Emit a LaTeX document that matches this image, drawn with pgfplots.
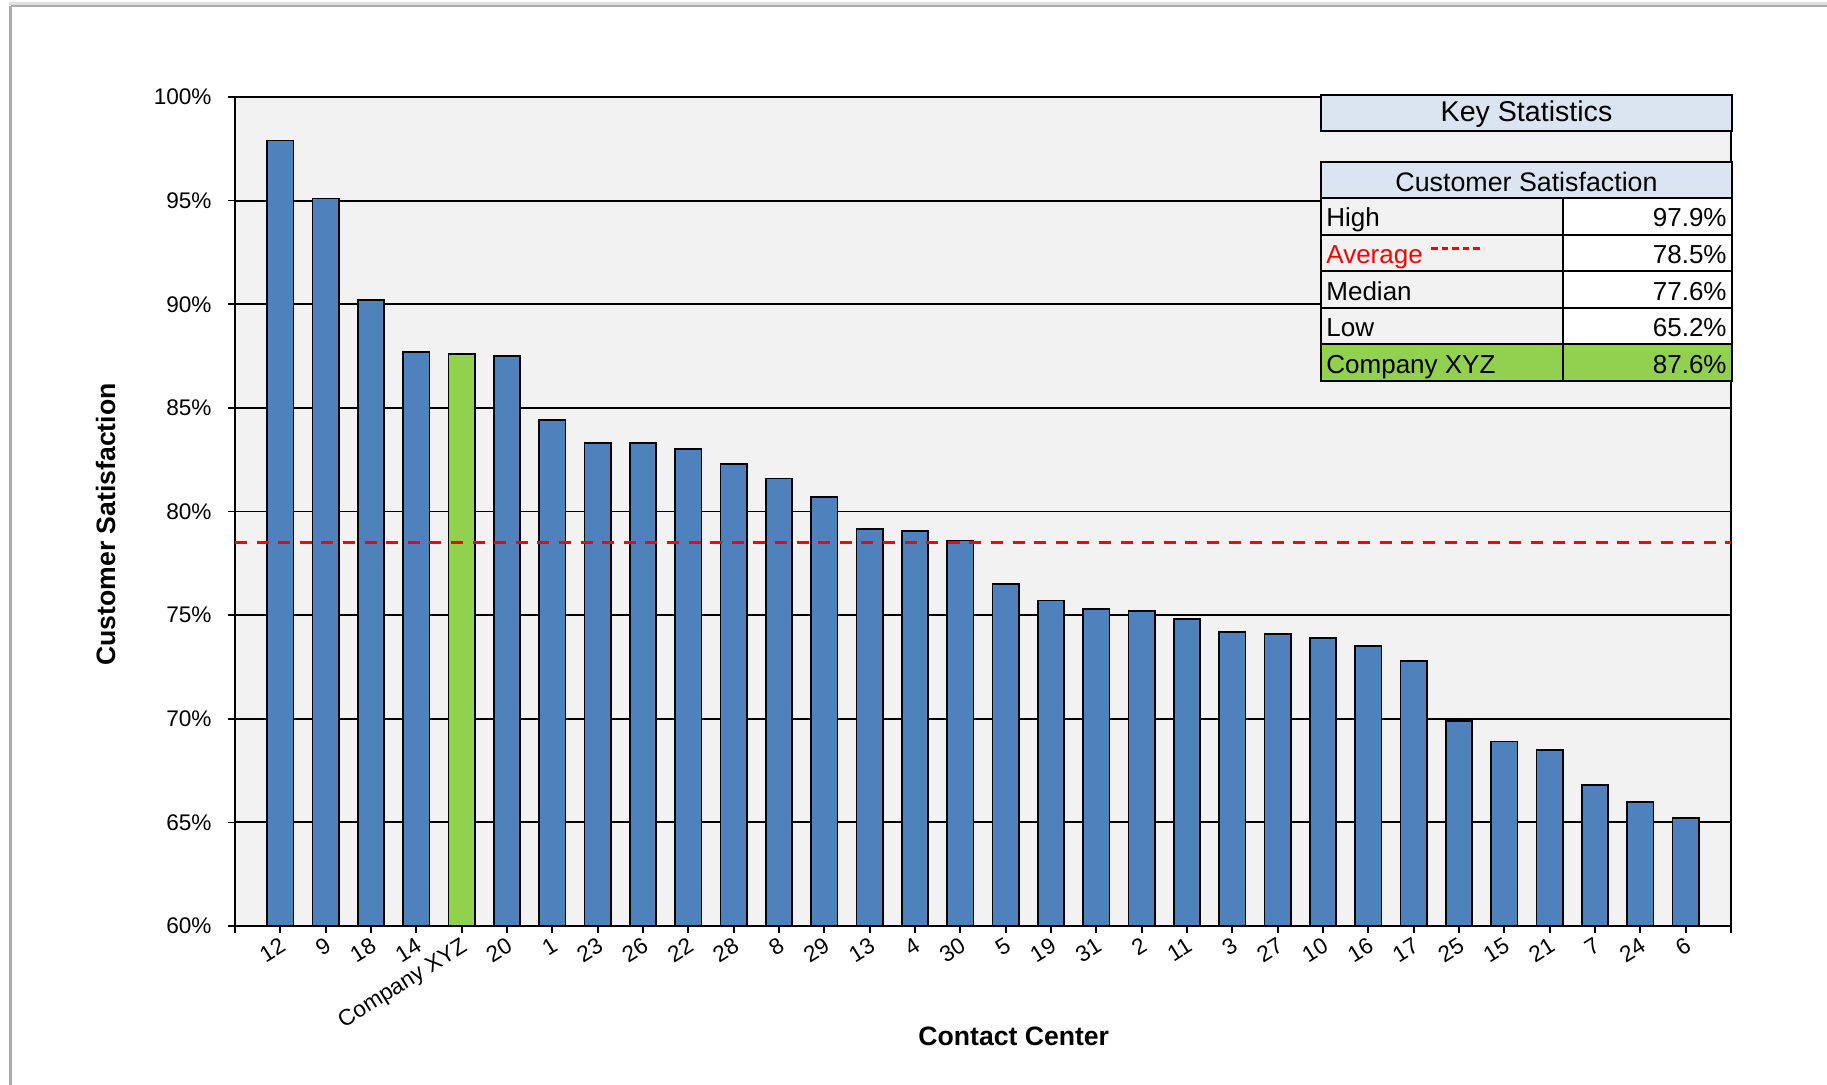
\documentclass[border=0pt]{standalone}
\usepackage{pgfplots}
\pgfplotsset{compat=1.18}
\usepackage{fontspec}
\setmainfont{Liberation Sans}

\definecolor{barblue}{HTML}{4F81BD}
\definecolor{xyzgreen}{HTML}{92D050}
\definecolor{plotbg}{HTML}{F2F2F2}
\definecolor{headbg}{HTML}{DBE5F1}
\definecolor{avgred}{HTML}{FF0000}
\definecolor{framegray}{HTML}{ABABAB}

\begin{document}
\begin{tikzpicture}
% page size: 1827 x 1084 units of 0.5pt
\useasboundingbox (0,0) rectangle (913.5pt,-542pt);

\begin{axis}[
  at={(117.5pt,-463pt)}, anchor=south west,
  scale only axis, width=748pt, height=414.5pt,
  xmin=-1, xmax=32, ymin=60, ymax=100,
  axis background/.style={fill=plotbg},
  axis line style={line width=1.3pt},
  ymajorgrids,
  major grid style={black, line width=0.9pt},
  ytick={60,65,...,100},
  yticklabels={60\%,65\%,70\%,75\%,80\%,85\%,90\%,95\%,100\%},
  xtick={0,...,31},
  xticklabels={12,9,18,14,Company XYZ,20,1,23,26,22,28,8,29,13,4,30,5,19,31,2,11,3,27,10,16,17,25,15,21,7,24,6},
  extra x ticks={-1,32},
  extra x tick labels={},
  extra x tick style={grid=none},
  tick align=outside,
  tick pos=left,
  major tick length=3.5pt,
  tick style={black, line width=0.85pt},
  ticklabel style={font=\fontsize{11.3}{13}\selectfont},
  yticklabel style={inner sep=0pt, xshift=-8pt},
  xticklabel style={rotate=32, anchor=north east, inner sep=1pt, xshift=-0.5pt},
]
% contact centers ranked by satisfaction
\addplot[ybar, bar width=0.58, bar shift=0pt, fill=barblue, draw=black, line width=0.85pt]
  coordinates {
  (0,97.9) (1,95.1) (2,90.2) (3,87.7) (5,87.5) (6,84.4) (7,83.3) (8,83.3)
  (9,83.0) (10,82.3) (11,81.6) (12,80.7) (13,79.15) (14,79.05) (15,78.6)
  (16,76.5) (17,75.7) (18,75.3) (19,75.2) (20,74.8) (21,74.2) (22,74.1)
  (23,73.9) (24,73.5) (25,72.8) (26,69.9) (27,68.9) (28,68.5) (29,66.8)
  (30,66.0) (31,65.2)
  };
% highlighted company
\addplot[ybar, bar width=0.58, bar shift=0pt, fill=xyzgreen, draw=black, line width=0.85pt]
  coordinates {(4,87.6)};
% average
\addplot[avgred, line width=1.5pt, dash pattern=on 6pt off 4.8pt]
  coordinates {(-1,78.5) (32,78.5)};
\end{axis}

\begin{scope}[x=0.5pt, y=-0.5pt]
  % chart area frame
  \draw[gray!25, line width=1.5pt] (9,3) -- (1830,3);
  \draw[framegray, line width=1.2pt] (10.5,5.7) -- (1830,5.7);
  \draw[framegray, line width=1.2pt] (10.5,5.7) -- (10.5,1090);

  % axis titles
  \node[rotate=90, anchor=base, font=\fontsize{13.3}{15}\selectfont\bfseries]
    at (115,524.5) {Customer Satisfaction};
  \node[anchor=base, font=\fontsize{13.3}{15}\selectfont\bfseries]
    at (1013.8,1045) {Contact Center};

  % key statistics panel
  \draw[fill=headbg, line width=1pt] (1321,95) rectangle (1732,131);
  \node[anchor=base, font=\fontsize{14.3}{16}\selectfont] at (1526.5,121.5) {Key Statistics};

  \draw[fill=headbg, line width=1pt] (1321,162) rectangle (1732,198);
  \node[anchor=base, font=\fontsize{13.4}{15}\selectfont] at (1526.5,191) {Customer Satisfaction};

  \fill[plotbg] (1321,198) rectangle (1563,344.3);
  \fill[white] (1563,198) rectangle (1732,344.3);
  \fill[xyzgreen] (1321,344.3) rectangle (1732,381);
  \draw[line width=1pt] (1321,162) rectangle (1732,381);
  \foreach \yy in {198,234.5,271,307.7,344.3}
    \draw[line width=1pt] (1321,\yy) -- (1732,\yy);
  \draw[line width=1pt] (1563,198) -- (1563,381);

  \begin{scope}[every node/.style={font=\fontsize{13}{15}\selectfont, inner sep=0pt}]
    \node[anchor=base west] at (1326,226.7) {High};
    \node[anchor=base west, text=avgred] at (1326,263.3) {Average};
    \node[anchor=base west] at (1326,300) {Median};
    \node[anchor=base west] at (1326,336.5) {Low};
    \node[anchor=base west] at (1326,373) {Company XYZ};
    \node[anchor=base east] at (1727,226.7) {97.9\%};
    \node[anchor=base east] at (1727,263.3) {78.5\%};
    \node[anchor=base east] at (1727,300) {77.6\%};
    \node[anchor=base east] at (1727,336.5) {65.2\%};
    \node[anchor=base east] at (1727,373) {87.6\%};
  \end{scope}
  \draw[avgred, line width=1.1pt, dash pattern=on 3.3pt off 2pt] (1431,248.5) -- (1484,248.5);
\end{scope}
\end{tikzpicture}
\end{document}
